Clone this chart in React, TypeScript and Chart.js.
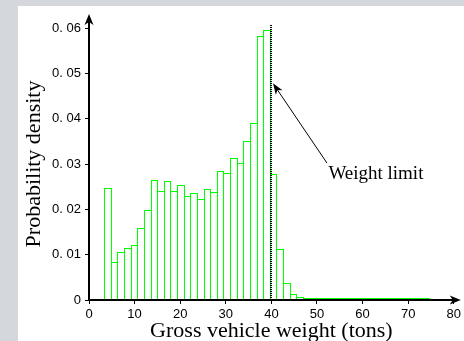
import React, { useEffect, useRef } from 'react';
import { Chart, registerables } from 'chart.js';

Chart.register(...registerables);

// Histogram bin centres (tons) and probability densities
const binCenters = [
  4.06, 5.51, 6.96, 8.42, 9.87, 11.32, 12.78, 14.23, 15.68, 17.14,
  18.59, 20.04, 21.5, 22.95, 24.4, 25.86, 27.31, 28.76, 30.22, 31.67,
  33.12, 34.58, 36.03, 37.48, 38.94, 40.39, 41.84, 43.3, 44.75, 46.2,
  47.66, 49.11, 50.56, 52.02, 53.47, 54.92, 56.38, 57.83, 59.28, 60.74,
  62.19, 63.64, 65.1, 66.55, 68.0, 69.46, 70.91, 72.36, 73.82,
];
const densities = [
  0.0248, 0.0083, 0.0105, 0.0115, 0.0121, 0.0158, 0.0199, 0.0265, 0.024, 0.0263,
  0.024, 0.0253, 0.0229, 0.0235, 0.0222, 0.0245, 0.0238, 0.0284, 0.0281, 0.0313,
  0.0302, 0.035, 0.0391, 0.0582, 0.0595, 0.0277, 0.0112, 0.0038, 0.0014, 0.0007,
  0.0005, 0.0004, 0.0004, 0.0004, 0.0004, 0.0004, 0.0004, 0.0004, 0.0004, 0.0004,
  0.0004, 0.0004, 0.0004, 0.0004, 0.0004, 0.0004, 0.0004, 0.0004, 0.0004,
];

const xTickValues = [0, 10, 20, 30, 40, 50, 60, 70, 80];
const xTickLabels = ['0', '10', '20', '30', '40', '50', '60', '70', '80'];
const yTickValues = [0, 0.01, 0.02, 0.03, 0.04, 0.05, 0.06];
const yTickLabels = ['0', '0. 01', '0. 02', '0. 03', '0. 04', '0. 05', '0. 06'];

const weightLimit = 40;
const limitLineTop = 0.0607;
const annotationText = 'Weight limit';
const arrowTip = { x: 40.35, y: 0.0478 };
const arrowTail = { x: 52.2, y: 0.0302 };
const textPos = { x: 52.5, y: 0.0268 };

// snap bar rectangles to whole pixels: neighbouring bars share one 1px edge
const snapPlugin = {
  id: 'snapBars',
  afterDatasetsUpdate(chart: any) {
    const els = chart.getDatasetMeta(0).data;
    const n = els.length;
    const edges: number[] = [];
    for (let i = 0; i <= n; i++) {
      if (i === 0) edges.push(els[0].x - els[0].width / 2);
      else if (i === n) edges.push(els[n - 1].x + els[n - 1].width / 2);
      else edges.push((els[i - 1].x + els[i].x) / 2);
    }
    els.forEach((el: any, i: number) => {
      const l = Math.round(edges[i]);
      const r = Math.round(edges[i + 1]) + 1;
      el.x = (l + r) / 2;
      el.width = r - l;
      el.y = Math.round(el.y);
      el.base = Math.round(el.base);
    });
  },
};

const decorPlugin = {
  id: 'decor',
  beforeDraw(chart: any) {
    const { ctx, width, height } = chart;
    ctx.save();
    ctx.fillStyle = '#d4d8dc';
    ctx.fillRect(0, 0, width, height);
    ctx.fillStyle = '#ffffff';
    ctx.fillRect(18, 6, width - 18, height - 6);
    ctx.restore();
  },
  afterDraw(chart: any) {
    const { ctx, chartArea } = chart;
    const x = chart.scales.x;
    const y = chart.scales.y;
    ctx.save();
    // weight limit dotted line
    const lx = Math.round(x.getPixelForValue(weightLimit));
    ctx.strokeStyle = '#000';
    ctx.lineWidth = 2;
    ctx.setLineDash([1, 1]);
    ctx.beginPath();
    ctx.moveTo(lx, Math.round(y.getPixelForValue(limitLineTop)));
    ctx.lineTo(lx, chartArea.bottom);
    ctx.stroke();
    ctx.setLineDash([]);

    // axis extensions with arrowheads
    const ax = chartArea.left;
    const ay = chartArea.bottom;
    ctx.lineWidth = 2;
    ctx.beginPath();
    ctx.moveTo(ax, chartArea.top);
    ctx.lineTo(ax, chartArea.top - 7);
    ctx.moveTo(chartArea.right, ay);
    ctx.lineTo(chartArea.right + 2, ay);
    ctx.stroke();
    ctx.fillStyle = '#000';
    const ty = chartArea.top - 14;
    ctx.beginPath();
    ctx.moveTo(ax, ty);
    ctx.lineTo(ax - 4.5, ty + 11);
    ctx.lineTo(ax, ty + 8);
    ctx.lineTo(ax + 4.5, ty + 11);
    ctx.closePath();
    ctx.fill();
    const tx = chartArea.right + 7;
    ctx.beginPath();
    ctx.moveTo(tx, ay);
    ctx.lineTo(tx - 11, ay - 4.5);
    ctx.lineTo(tx - 8, ay);
    ctx.lineTo(tx - 11, ay + 4.5);
    ctx.closePath();
    ctx.fill();

    // annotation arrow
    const px1 = x.getPixelForValue(arrowTail.x);
    const py1 = y.getPixelForValue(arrowTail.y);
    const px2 = x.getPixelForValue(arrowTip.x);
    const py2 = y.getPixelForValue(arrowTip.y);
    const ang = Math.atan2(py2 - py1, px2 - px1);
    ctx.lineWidth = 1;
    ctx.beginPath();
    ctx.moveTo(px1, py1);
    ctx.lineTo(px2 - Math.cos(ang) * 6, py2 - Math.sin(ang) * 6);
    ctx.stroke();
    const L = 11;
    const W = 4;
    const bx = px2 - Math.cos(ang) * L;
    const by = py2 - Math.sin(ang) * L;
    const nx = -Math.sin(ang);
    const ny = Math.cos(ang);
    const mx = px2 - Math.cos(ang) * (L - 3);
    const my = py2 - Math.sin(ang) * (L - 3);
    ctx.beginPath();
    ctx.moveTo(px2, py2);
    ctx.lineTo(bx + nx * W, by + ny * W);
    ctx.lineTo(mx, my);
    ctx.lineTo(bx - nx * W, by - ny * W);
    ctx.closePath();
    ctx.fill();

    // annotation text
    ctx.font = '19px "Liberation Serif"';
    ctx.textAlign = 'left';
    ctx.textBaseline = 'alphabetic';
    ctx.fillText(annotationText, x.getPixelForValue(textPos.x), y.getPixelForValue(textPos.y));
    ctx.restore();
  },
};

export default function App() {
  const canvasRef = useRef<HTMLCanvasElement | null>(null);

  useEffect(() => {
    if (!canvasRef.current) return;
    const chart = new Chart(canvasRef.current, {
      type: 'bar',
      data: {
        datasets: [
          {
            data: binCenters.map((c, i) => ({ x: c, y: densities[i] })),
            backgroundColor: '#ffffff',
            borderColor: '#00ff00',
            borderWidth: 1,
            inflateAmount: 0,
            barPercentage: 1,
            categoryPercentage: 1,
          },
        ],
      },
      options: {
        animation: false,
        responsive: false,
        events: [],
        layout: { padding: { top: 28, right: 8, left: 0, bottom: 0 } },
        plugins: {
          legend: { display: false },
          tooltip: { enabled: false },
          title: { display: false },
        },
        scales: {
          x: {
            type: 'linear',
            min: 0,
            max: 80,
            offset: false,
            afterBuildTicks: (scale: any) => {
              scale.ticks = xTickValues.map((v) => ({ value: v }));
            },
            afterFit: (scale: any) => {
              scale.height = 41;
            },
            grid: {
              display: true,
              offset: false,
              drawOnChartArea: false,
              drawTicks: true,
              tickLength: 4,
              color: '#000',
              lineWidth: 1,
            },
            border: { display: true, color: '#000', width: 2, z: 1 },
            ticks: {
              color: '#000',
              padding: 3,
              maxRotation: 0,
              autoSkip: false,
              font: { family: 'Liberation Sans', size: 13 },
              callback: (_v: any, i: number) => xTickLabels[i],
            },
            title: {
              display: true,
              text: 'Gross vehicle weight (tons)',
              color: '#000',
              font: { family: 'Liberation Serif', size: 22, lineHeight: '20px' },
              padding: { top: 0, bottom: 0 },
            },
          },
          y: {
            type: 'linear',
            min: 0,
            max: 0.06,
            afterBuildTicks: (scale: any) => {
              scale.ticks = yTickValues.map((v) => ({ value: v }));
            },
            afterFit: (scale: any) => {
              scale.width = 89;
            },
            grid: {
              display: true,
              drawOnChartArea: false,
              drawTicks: true,
              tickLength: 4,
              color: '#000',
              lineWidth: 1,
            },
            border: { display: true, color: '#000', width: 2, z: 1 },
            ticks: {
              color: '#000',
              padding: 4,
              autoSkip: false,
              font: { family: 'Liberation Sans', size: 13 },
              callback: (_v: any, i: number) => yTickLabels[i],
            },
            title: {
              display: true,
              text: 'Probability density',
              color: '#000',
              font: { family: 'Liberation Serif', size: 22, lineHeight: '20px' },
              padding: { top: 24, bottom: 0 },
            },
          },
        },
      },
      plugins: [snapPlugin, decorPlugin],
    });
    return () => chart.destroy();
  }, []);

  return (
    <div style={{ position: 'absolute', left: 0, top: 0, width: 464, height: 341 }}>
      <canvas ref={canvasRef} width={464} height={341} style={{ display: 'block', width: 464, height: 341 }} />
    </div>
  );
}
